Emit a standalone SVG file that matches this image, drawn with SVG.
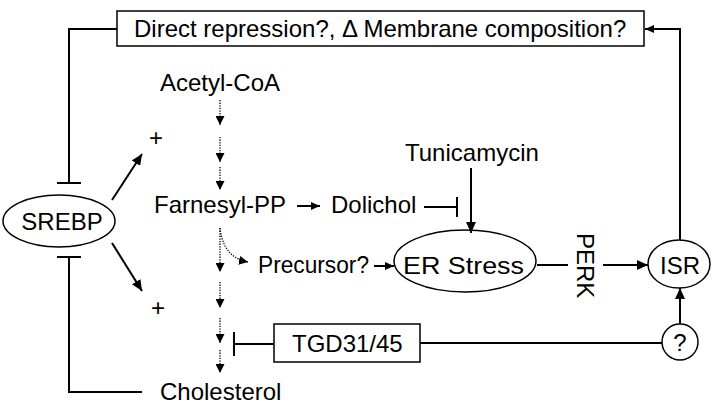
<svg xmlns="http://www.w3.org/2000/svg" width="717" height="412" viewBox="0 0 717 412">
<style>
text{font-family:"Liberation Sans",Arial,sans-serif;font-size:24px;fill:#000}
.ln{fill:none;stroke:#000;stroke-width:2}
.thin{fill:none;stroke:#000;stroke-width:1.5}
.dot{fill:none;stroke:#000;stroke-width:1.3;stroke-dasharray:1.3 1.3}
.box{fill:#fff;stroke:#000;stroke-width:1.5}
</style>
<defs>
<marker id="ah" markerUnits="userSpaceOnUse" markerWidth="12" markerHeight="10" refX="11" refY="5" orient="auto"><path d="M0,0 L11,5 L0,10 z" fill="#000"/></marker>
<marker id="as" markerUnits="userSpaceOnUse" markerWidth="10" markerHeight="8" refX="9" refY="4" orient="auto"><path d="M0,0 L9,4 L0,8 z" fill="#000"/></marker>
<marker id="ad" markerUnits="userSpaceOnUse" markerWidth="10" markerHeight="9" refX="9" refY="4.5" orient="auto"><path d="M0,0 L9,4.5 L0,9 z" fill="#000"/></marker>
</defs>

<g id="connectors">
<polyline class="ln" points="117,29 69,29 69,183"/>
<line class="ln" x1="57" y1="183" x2="81" y2="183"/>
<polyline class="ln" points="69,257 69,392 142,392"/>
<line class="ln" x1="57" y1="257" x2="81" y2="257"/>
<line class="ln" x1="112" y1="200" x2="142" y2="154" marker-end="url(#ah)"/>
<line class="ln" x1="112" y1="243" x2="142" y2="291" marker-end="url(#ah)"/>
<line class="dot" x1="220" y1="100" x2="220" y2="125" marker-end="url(#ad)"/>
<line class="dot" x1="220" y1="137" x2="220" y2="162" marker-end="url(#ad)"/>
<line class="dot" x1="220" y1="167" x2="220" y2="190" marker-end="url(#ad)"/>
<line class="dot" x1="220" y1="228" x2="220" y2="272" marker-end="url(#ad)"/>
<path class="dot" d="M220,228 C222,248 232,259 248,262" marker-end="url(#ad)"/>
<line class="dot" x1="220" y1="282" x2="220" y2="308" marker-end="url(#ad)"/>
<line class="dot" x1="220" y1="318" x2="220" y2="343" marker-end="url(#ad)"/>
<line class="dot" x1="220" y1="350" x2="220" y2="373" marker-end="url(#ad)"/>
<line class="ln" x1="297" y1="206" x2="320" y2="206" marker-end="url(#as)"/>
<line class="ln" x1="424" y1="207" x2="457" y2="207"/>
<line class="ln" x1="457" y1="197" x2="457" y2="217"/>
<line class="ln" x1="471" y1="168" x2="471" y2="233" marker-end="url(#ah)"/>
<line class="ln" x1="374" y1="266" x2="394" y2="266" marker-end="url(#as)"/>
<line class="ln" x1="537" y1="265" x2="568" y2="265"/>
<line class="ln" x1="603" y1="265" x2="648" y2="265" marker-end="url(#ah)"/>
<polyline class="ln" points="680,240 680,29 645,29" marker-end="url(#as)"/>
<line class="ln" x1="680" y1="324" x2="680" y2="288" marker-end="url(#ah)"/>
<line class="ln" x1="662" y1="343" x2="420" y2="343"/>
<line class="ln" x1="274" y1="344" x2="234" y2="344"/>
<line class="ln" x1="234" y1="332" x2="234" y2="356"/>
</g>

<g id="top-box">
<rect class="box" x="117" y="11" width="527" height="35"/>
<text x="134" y="37">Direct repression?, Δ Membrane composition?</text>
</g>
<g id="srebp">
<ellipse class="thin" cx="59" cy="221" rx="56" ry="26"/>
<text x="62" y="230" text-anchor="middle">SREBP</text>
</g>
<g id="plus-top"><text x="156" y="146" text-anchor="middle">+</text></g>
<g id="plus-bottom"><text x="158" y="316" text-anchor="middle">+</text></g>
<g id="acetyl-coa"><text x="160" y="91">Acetyl-CoA</text></g>
<g id="farnesyl-pp"><text x="154" y="213">Farnesyl-PP</text></g>
<g id="dolichol"><text x="331" y="213">Dolichol</text></g>
<g id="tunicamycin"><text x="405" y="161">Tunicamycin</text></g>
<g id="precursor"><text x="258" y="273" textLength="111" lengthAdjust="spacingAndGlyphs">Precursor?</text></g>
<g id="er-stress">
<ellipse class="thin" cx="465" cy="261" rx="71" ry="31"/>
<text x="403" y="274" textLength="121" lengthAdjust="spacingAndGlyphs">ER Stress</text>
</g>
<g id="perk"><text transform="translate(577,233) rotate(90)">PERK</text></g>
<g id="isr">
<ellipse class="thin" cx="679" cy="264" rx="31" ry="24"/>
<text x="680" y="274" text-anchor="middle">ISR</text>
</g>
<g id="unknown">
<circle class="thin" cx="680" cy="342" r="18"/>
<text x="680" y="351" text-anchor="middle">?</text>
</g>
<g id="tgd">
<rect class="box" x="274" y="324" width="146" height="38"/>
<text x="292" y="352">TGD31/45</text>
</g>
<g id="cholesterol"><text x="160" y="400">Cholesterol</text></g>
</svg>
